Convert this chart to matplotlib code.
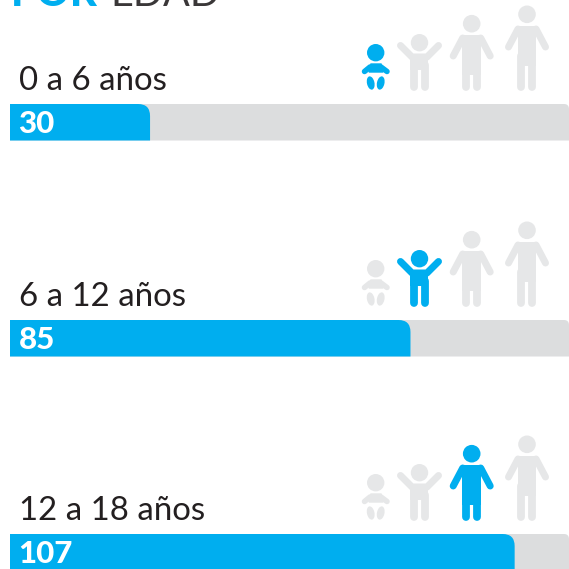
import matplotlib
matplotlib.use('Agg')
import matplotlib.pyplot as plt
from matplotlib.patches import Circle, Ellipse, PathPatch, Polygon
from matplotlib.path import Path

# =========================
# DATA
# =========================
age_labels = ['0 a 6 años', '6 a 12 años', '12 a 18 años']
counts = [30, 85, 107]

BLUE = '#00AEEF'
TRACK = '#DCDDDE'
GREY = '#E6E7E8'
DARK = '#231F20'

# px per unit of count
X0 = 8
PX_PER_UNIT = 4.735
BAR_LEFT = 10
RIGHT = 569

ROW_SHIFT = [0, 216, 430]

fig = plt.figure(figsize=(5.69, 5.69), dpi=100)
ax = fig.add_axes([0, 0, 1, 1])
ax.set_xlim(0, 569)
ax.set_ylim(569, 0)
ax.axis('off')


def rounded_bar(x0, x1, top, bottom, r, color, z):
    # only the top right corner is rounded
    verts = [(x0, bottom), (x0, top), (x1 - r, top), (x1, top), (x1, top + r),
             (x1, bottom), (x0, bottom)]
    codes = [Path.MOVETO, Path.LINETO, Path.LINETO, Path.CURVE3, Path.CURVE3,
             Path.LINETO, Path.CLOSEPOLY]
    ax.add_patch(PathPatch(Path(verts, codes), fc=color, ec='none', zorder=z))


def limb(xs, ys, color, w):
    ax.plot(xs, ys, color=color, lw=w * 0.72, solid_capstyle='round',
            solid_joinstyle='round', zorder=3)


def baby(dy, color):
    ax.add_patch(Circle((375.7, 52.7 + dy), 8.7, fc=color, ec='none', zorder=3))
    ax.add_patch(Polygon([(369, 72 + dy), (371, 64 + dy), (381, 64 + dy), (383, 72 + dy)],
                         fc=color, ec=color, lw=1, zorder=3))
    limb([364.5, 370, 381, 387], [71.5 + dy, 67 + dy, 67 + dy, 71.5 + dy], color, 5.5)
    ax.add_patch(Ellipse((370.7, 83 + dy), 7.5, 13.5, angle=-12, fc=color, ec='none', zorder=3))
    ax.add_patch(Ellipse((380.7, 83 + dy), 7.5, 13.5, angle=12, fc=color, ec='none', zorder=3))


def child(dy, color):
    ax.add_patch(Circle((419.5, 42.7 + dy), 8.7, fc=color, ec='none', zorder=3))
    limb([400.5, 412, 427, 438.5], [45.5 + dy, 57 + dy, 57 + dy, 45.5 + dy], color, 7)
    ax.add_patch(Polygon([(410.5, 56 + dy), (428.5, 56 + dy), (428.5, 70 + dy), (410.5, 70 + dy)],
                         fc=color, ec='none', zorder=3))
    limb([414, 414], [65 + dy, 86.5 + dy], color, 7.8)
    limb([425, 425], [65 + dy, 86.5 + dy], color, 7.8)


def person(cx, head_y, top, arm_end, dy, color):
    ax.add_patch(Circle((cx, head_y + dy), 8.8, fc=color, ec='none', zorder=3))
    ax.add_patch(Polygon([(cx - 9.4, top + dy), (cx + 9.4, top + dy),
                          (cx + 9.4, top + 40 + dy), (cx - 9.4, top + 40 + dy)],
                         fc=color, ec='none', zorder=3))
    limb([cx - 9, cx - arm_end], [top + 3 + dy, top + 21 + dy], color, 7)
    limb([cx + 9, cx + arm_end], [top + 3 + dy, top + 21 + dy], color, 7)
    limb([cx - 5.5, cx - 5.5], [top + 30 + dy, 86.5 + dy], color, 7.8)
    limb([cx + 5.5, cx + 5.5], [top + 30 + dy, 86.5 + dy], color, 7.8)


# title, cut off by the top edge
ax.text(11, 6, 'POR', color=BLUE, fontsize=30, fontweight='black', family='Lato',
        ha='left', va='baseline')
ax.text(110, 6, 'EDAD', color='#3A3738', fontsize=28.5, fontweight='normal', family='Lato',
        ha='left', va='baseline')

for i in range(3):
    dy = ROW_SHIFT[i]
    rounded_bar(BAR_LEFT, RIGHT, 104 + dy, 140.5 + dy, 5, TRACK, 1)
    rounded_bar(BAR_LEFT, X0 + counts[i] * PX_PER_UNIT, 104 + dy, 140.5 + dy, 12, BLUE, 2)
    ax.text(19, 90 + dy, age_labels[i], color=DARK, fontsize=23.8, family='Lato',
            ha='left', va='baseline')
    ax.text(18.5, 133 + dy, str(counts[i]), color='white', fontsize=22.5, fontweight='black',
            family='Lato', ha='left', va='baseline')

    # the age group of the row is in blue
    baby(dy, BLUE if i == 0 else GREY)
    child(dy, BLUE if i == 1 else GREY)
    person(471.7, 23.7, 35, 18.5, dy, BLUE if i == 2 else GREY)
    person(527, 14.3, 26, 18.5, dy, GREY)

fig.savefig('out.png', dpi=100)
